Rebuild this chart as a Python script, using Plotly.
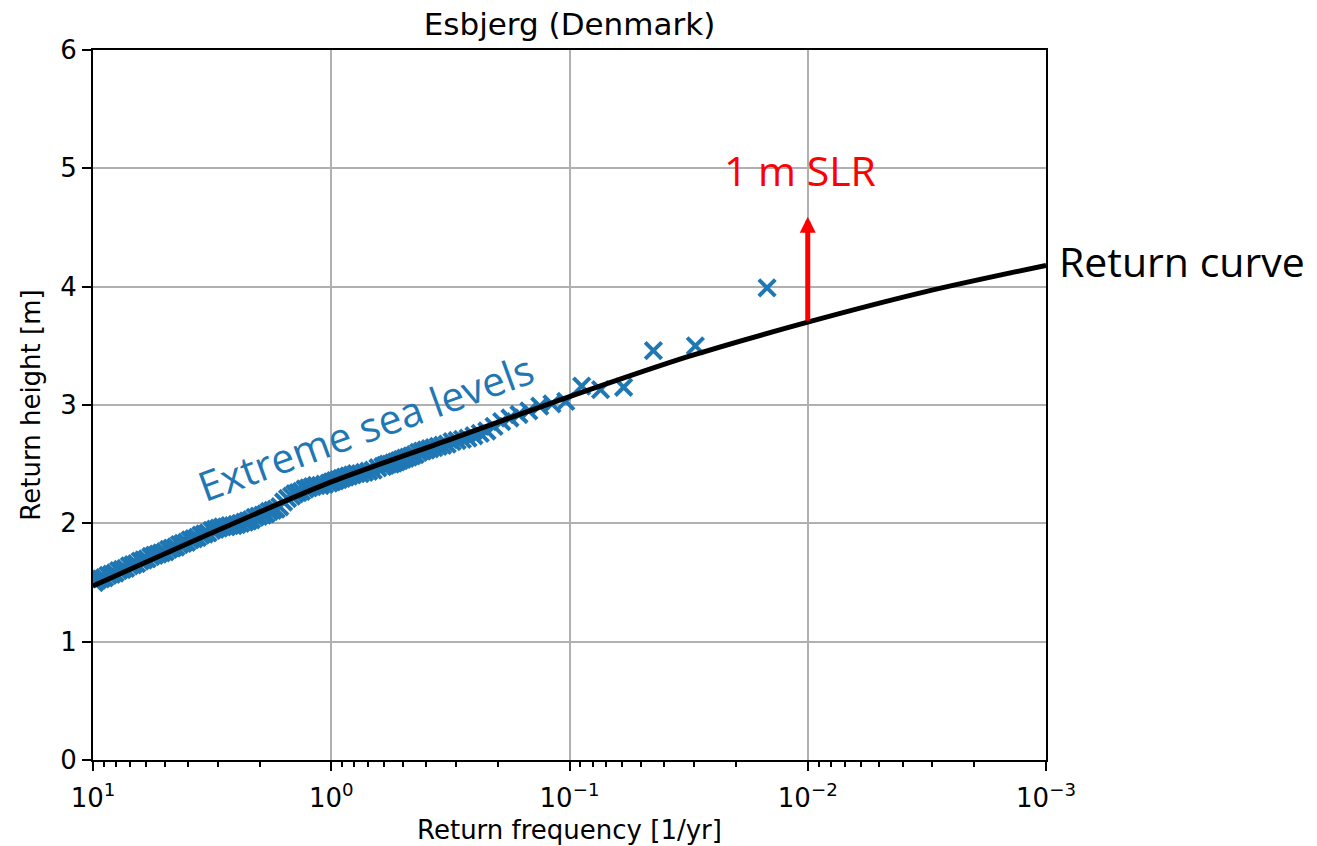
import math
import plotly.graph_objects as go

# ---------------- data ----------------
record_years = 67.5  # length of record used for plotting positions

ranks = [1, 2, 3, 4, 5, 6, 7, 8, 9, 10, 11, 12, 13, 14, 15, 16, 17, 18, 19, 20,
         21, 22, 23, 24, 25, 26, 27, 28, 29, 30, 31, 32, 33, 34, 35, 36, 37, 38, 39, 40,
         41, 43, 45, 47, 49, 51, 53, 55, 57, 59, 61, 63, 65, 67, 69, 72, 75, 78, 81, 84,
         87, 90, 93, 96, 99, 103, 107, 111, 115, 119, 123, 127, 131, 136, 141, 146, 151, 156, 162, 168,
         174, 180, 186, 193, 200, 207, 214, 222, 230, 238, 246, 255, 264, 273, 283, 293, 303, 314, 325, 336,
         348, 360, 373, 386, 400, 414, 428, 443, 459, 475, 492, 509, 527, 545, 564, 584, 604, 625, 647, 665]

heights = [3.99, 3.50, 3.46, 3.15, 3.13, 3.16, 3.03, 3.01, 2.99, 2.95, 2.92, 2.89, 2.86, 2.82, 2.78, 2.76, 2.74, 2.72, 2.71, 2.70,
           2.69, 2.67, 2.66, 2.65, 2.64, 2.63, 2.62, 2.61, 2.60, 2.58, 2.57, 2.56, 2.55, 2.54, 2.53, 2.52, 2.51, 2.50, 2.50, 2.49,
           2.48, 2.47, 2.45, 2.44, 2.43, 2.42, 2.42, 2.41, 2.40, 2.39, 2.38, 2.37, 2.36, 2.35, 2.34, 2.33, 2.32, 2.32, 2.31, 2.30,
           2.29, 2.27, 2.26, 2.25, 2.23, 2.21, 2.18, 2.14, 2.12, 2.11, 2.10, 2.08, 2.07, 2.06, 2.05, 2.03, 2.02, 2.01, 2.00, 1.99,
           1.98, 1.98, 1.97, 1.97, 1.96, 1.95, 1.94, 1.92, 1.91, 1.90, 1.88, 1.87, 1.86, 1.84, 1.83, 1.82, 1.80, 1.79, 1.78, 1.76,
           1.75, 1.74, 1.73, 1.72, 1.70, 1.69, 1.68, 1.66, 1.65, 1.64, 1.62, 1.61, 1.60, 1.58, 1.57, 1.56, 1.54, 1.53, 1.52, 1.50]

curve_freq = [10, 3.162, 1, 0.3162, 0.1, 0.03162, 0.01, 0.003162, 0.001]
curve_height = [1.47, 1.92, 2.35, 2.71, 3.07, 3.41, 3.70, 3.96, 4.18]

slr_freq = 0.01
slr_base = 3.70
slr_top = 4.59

major_ticks = [10, 1, 0.1, 0.01, 0.001]
major_labels = ["10<sup>1</sup>", "10<sup>0</sup>", "10<sup>\u22121</sup>",
                "10<sup>\u22122</sup>", "10<sup>\u22123</sup>"]
minor_ticks = [m * 10.0 ** e for e in range(-3, 1) for m in range(2, 10)]

freq = [r / record_years for r in ranks]

# ---------------- figure ----------------
fig = go.Figure()

fig.add_trace(go.Scatter(
    x=freq, y=heights, mode="markers",
    marker=dict(symbol="x-thin", size=16.5, color="#1f77b4",
                line=dict(color="#1f77b4", width=4)),
    showlegend=False, hoverinfo="x+y"))

fig.add_trace(go.Scatter(
    x=curve_freq, y=curve_height, mode="lines",
    line=dict(color="black", width=5, shape="spline", smoothing=0.8),
    showlegend=False))

tickfont = dict(family="DejaVu Sans", size=26, color="black")
annfont = "Open Sans"

fig.update_layout(
    width=1317, height=846,
    margin=dict(l=93, r=271, t=50, b=86, autoexpand=False),
    paper_bgcolor="white", plot_bgcolor="white",
    title=dict(text="Esbjerg (Denmark)", font=dict(family="DejaVu Sans", size=31, color="black"),
               x=569.5 / 1317, xanchor="center", xref="container",
               y=1 - 24 / 846, yanchor="middle", yref="container"),
    xaxis=dict(type="log", range=[1, -3], autorange=False, automargin=False,
               tickmode="array", tickvals=major_ticks, ticktext=major_labels,
               ticks="outside", ticklen=9, tickwidth=2, tickcolor="black",
               tickfont=tickfont, ticklabelstandoff=5,
               showline=True, linecolor="black", linewidth=2, mirror=True,
               showgrid=True, gridcolor="#b0b0b0", gridwidth=2,
               minor=dict(tickmode="array", tickvals=minor_ticks, ticks="outside",
                          ticklen=5, tickwidth=1.6, tickcolor="black", showgrid=False),
               title=dict(text="Return frequency [1/yr]", font=tickfont, standoff=9)),
    yaxis=dict(range=[0, 6], autorange=False, automargin=False,
               tickmode="array", tickvals=[0, 1, 2, 3, 4, 5, 6],
               ticks="outside", ticklen=9, tickwidth=2, tickcolor="black",
               tickfont=tickfont, zeroline=False,
               showline=True, linecolor="black", linewidth=2, mirror=True,
               showgrid=True, gridcolor="#b0b0b0", gridwidth=2,
               title=dict(text="Return height [m]", font=tickfont, standoff=12)),
)

fig.add_annotation(x=math.log10(slr_freq), y=slr_top, ax=math.log10(slr_freq), ay=slr_base,
                   xref="x", yref="y", axref="x", ayref="y", text="",
                   showarrow=True, arrowhead=2, arrowsize=0.64, arrowwidth=5,
                   arrowcolor="#ff0000", standoff=0)

fig.add_annotation(x=-1.967, y=4.99, xref="x", yref="y", text="1 m SLR", showarrow=False,
                   font=dict(family=annfont, size=41, color="#ff0000"),
                   xanchor="center", yanchor="middle")

fig.add_annotation(x=1.0115, y=4.22, xref="paper", yref="y", text="Return curve", showarrow=False,
                   font=dict(family=annfont, size=41, color="black"),
                   xanchor="left", yanchor="middle")

fig.add_annotation(x=-0.1417, y=2.814, xref="x", yref="y", text="Extreme sea levels", showarrow=False,
                   font=dict(family=annfont, size=41, color="#1f77b4"),
                   textangle=-20, xanchor="center", yanchor="middle")

fig.write_html("out.html")
